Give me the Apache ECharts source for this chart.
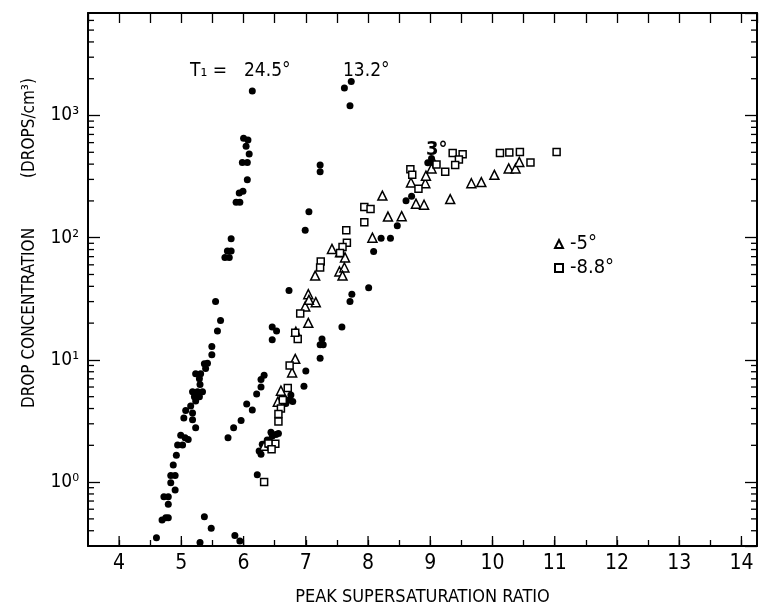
<!DOCTYPE html>
<html>
<head>
<meta charset="utf-8">
<script src="https://cdn.jsdelivr.net/npm/echarts@6/dist/echarts.min.js"></script>
<style>
html,body{margin:0;padding:0;background:#fff;}
#chart{width:764px;height:611px;}
</style>
</head>
<body>
<div id="chart"></div>
<script>
// ---- data ----
const circles245 = [
  [6.14,1590],[6.00,650],[6.07,630],[6.04,560],[6.09,485],[5.98,412],[6.06,412],
  [6.06,298],[5.93,232],[5.99,240],[5.88,195],[5.94,195],[5.80,98],[5.74,78],[5.80,78],
  [5.70,69],[5.77,69],[5.55,30],[5.63,21],[5.58,17.2],[5.49,12.9],[5.49,11],
  [5.42,9.4],[5.37,9.3],[5.39,8.5],[5.23,7.7],[5.31,7.7],[5.29,7.0],[5.30,6.3],
  [5.18,5.5],[5.26,5.5],[5.34,5.5],[5.21,5.0],[5.29,5.0],[5.23,4.6],[5.15,4.2],
  [5.07,3.86],[5.18,3.67],[5.04,3.34],[5.18,3.24],[5.23,2.78],[4.99,2.42],[5.06,2.31],
  [5.11,2.23],[4.94,2.01],[5.02,2.01],[4.92,1.66],[4.87,1.38],[4.83,1.13],[4.90,1.13],
  [4.83,0.99],[4.90,0.86],[4.72,0.76],[4.79,0.76],[4.79,0.66],[4.69,0.49],[4.75,0.51],
  [4.79,0.51],[4.60,0.35],[5.37,0.52],[5.48,0.42],[5.30,0.32],[5.86,0.365],[5.94,0.33]
];
const circles132 = [
  [7.73,1900],[7.62,1680],[7.71,1200],[7.23,393],[7.23,347],[7.05,163],[6.99,115],
  [6.73,37],[7.74,34.5],[7.71,30],[7.58,18.6],[6.46,18.6],[6.53,17.2],[6.46,14.6],
  [7.26,14.8],[7.23,13.3],[7.28,13.3],[7.23,10.3],[7.00,8.1],[6.97,6.1],[6.33,7.5],
  [6.28,6.9],[6.28,6.0],[6.21,5.25],[6.05,4.36],[6.14,3.9],[5.96,3.2],[5.84,2.78],[5.75,2.31]
];
const circles3 = [
  [9.02,444],[8.96,410],[9.04,417],[8.70,218],[8.61,201],[8.47,125],[8.21,99],[8.36,99],
  [8.09,77],[8.01,39],[6.76,5.15],[6.73,4.7],[6.68,4.4],[6.79,4.56],[6.44,2.56],[6.52,2.45],
  [6.46,2.38],[6.56,2.5],[6.38,2.21],[6.30,2.04],[6.25,1.8],[6.28,1.69],[6.22,1.15]
];
const trianglesM5 = [
  [8.23,221],[8.32,149],[8.54,150],[8.07,100],[8.69,283],[8.92,279],[8.93,322],
  [8.77,190],[8.90,186],[9.02,369],[9.32,207],[9.66,279],[9.82,285],[10.03,327],
  [10.26,369],[10.37,369],[10.43,417],[7.42,81],[7.55,76],[7.63,69],[7.15,49],
  [7.54,53],[7.62,57],[7.59,49],[7.04,34.5],[6.99,27.4],[7.16,29.7],[7.05,31],
  [7.04,20.1],[6.84,17],[6.83,10.2],[6.78,7.9],[6.60,5.6],[6.55,4.55],[6.33,1.98],[6.44,2.1]
];
const squaresM88 = [
  [9.36,494],[9.52,482],[9.46,436],[9.40,393],[9.10,398],[9.24,347],[8.68,363],[8.71,327],
  [8.81,251],[10.12,494],[10.27,497],[10.44,503],[10.61,412],[11.03,503],[7.94,178],
  [8.04,172],[7.94,134],[7.65,115],[7.66,91],[7.59,84],[7.55,75],[7.24,64],[7.23,57],
  [6.91,24],[6.87,14.8],[6.83,16.7],[6.74,9.0],[6.71,5.9],[6.63,4.7],[6.60,4.0],
  [6.56,3.6],[6.56,3.14],[6.51,2.06],[6.40,2.07],[6.45,1.86],[6.33,1.0]
];
const xMajorTicks = [4,5,6,7,8,9,10,11,12,13,14];
const yMinorTicks = [0.4,0.5,0.6,0.7,0.8,0.9,2,3,4,5,6,7,8,9,20,30,40,50,60,70,80,90,
  200,300,400,500,600,700,800,900,2000,3000,4000,5000,6000];
const yTickLabels = {1:'10⁰',10:'10¹',100:'10²',1000:'10³'};

const X_MIN = 3.5, X_MAX = 14.25, Y_MIN = 0.3, Y_MAX = 6900;
const FONT = "'DejaVu Sans Condensed','DejaVu Sans',sans-serif";

const chart = echarts.init(document.getElementById('chart'), null, {renderer:'canvas'});

function yLabel(v){
  const k = Math.round(v*1000)/1000;
  return yTickLabels[k] || '';
}

const option = {
  animation:false,
  backgroundColor:'#fff',
  grid:{left:88,right:7,top:13,bottom:56,containLabel:false},
  xAxis:[{
    type:'value',position:'bottom',min:X_MIN,max:X_MAX,interval:0.5,
    axisLine:{lineStyle:{color:'#000',width:2}},
    axisTick:{inside:true,length:6,lineStyle:{color:'#000',width:1.3}},
    splitLine:{show:false},
    axisLabel:{color:'#000',fontFamily:FONT,fontSize:21,margin:7,
      formatter:v=> (Math.abs(v-Math.round(v))<1e-6 ? String(Math.round(v)) : ''),
      showMinLabel:false,showMaxLabel:false},
    name:'PEAK SUPERSATURATION RATIO',nameLocation:'middle',nameGap:42,
    nameTextStyle:{color:'#000',fontFamily:FONT,fontSize:18}
  },{
    type:'value',position:'top',min:X_MIN,max:X_MAX,interval:0.5,
    axisLine:{lineStyle:{color:'#000',width:2}},
    axisTick:{inside:true,length:10,lineStyle:{color:'#000',width:1.3}},
    splitLine:{show:false},axisLabel:{show:false}
  }],
  yAxis:[{
    type:'log',logBase:10,position:'left',min:Y_MIN,max:Y_MAX,
    axisLine:{show:true,lineStyle:{color:'#000',width:2}},
    axisTick:{show:true,inside:true,length:12,lineStyle:{color:'#000',width:1.3}},
    splitLine:{show:false},minorTick:{show:false},
    axisLabel:{color:'#000',fontFamily:FONT,fontSize:19,margin:9,formatter:yLabel,
      showMinLabel:false,showMaxLabel:false}
  },{
    type:'log',logBase:10,position:'right',min:Y_MIN,max:Y_MAX,
    axisLine:{show:true,lineStyle:{color:'#000',width:2}},
    axisTick:{show:true,inside:true,length:12,lineStyle:{color:'#000',width:1.3}},
    splitLine:{show:false},axisLabel:{show:false}
  }],
  legend:{
    data:['-5°','-8.8°'],orient:'vertical',left:549,top:229,itemGap:4,
    itemWidth:8,itemHeight:8,
    textStyle:{color:'#000',fontFamily:FONT,fontSize:20,padding:[0,0,0,2]},
    selectedMode:false
  },
  graphic:[
    {type:'text',x:30,y:318,rotation:Math.PI/2,
      style:{text:'DROP CONCENTRATION',fill:'#000',font:'17px '+FONT,textAlign:'center',textVerticalAlign:'middle'}},
    {type:'text',x:30,y:128,rotation:Math.PI/2,
      style:{text:'(DROPS/cm³)',fill:'#000',font:'17px '+FONT,textAlign:'center',textVerticalAlign:'middle'}},
    {type:'text',x:190,y:71,
      style:{text:'T₁ =',fill:'#000',font:'19px '+FONT,textAlign:'left',textVerticalAlign:'middle'}},
    {type:'text',x:244,y:71,
      style:{text:'24.5°',fill:'#000',font:'19px '+FONT,textAlign:'left',textVerticalAlign:'middle'}},
    {type:'text',x:343,y:71,
      style:{text:'13.2°',fill:'#000',font:'19px '+FONT,textAlign:'left',textVerticalAlign:'middle'}},
    {type:'text',x:426,y:150,
      style:{text:'3°',fill:'#000',font:'bold 20px '+FONT,textAlign:'left',textVerticalAlign:'middle'}}
  ],
  series:[
    {name:'24.5°',type:'scatter',data:circles245,symbol:'circle',symbolSize:7,
      itemStyle:{color:'#000',opacity:1}},
    {name:'13.2°',type:'scatter',data:circles132,symbol:'circle',symbolSize:7,
      itemStyle:{color:'#000',opacity:1}},
    {name:'3°',type:'scatter',data:circles3,symbol:'circle',symbolSize:7,
      itemStyle:{color:'#000',opacity:1}},
    {name:'-5°',type:'scatter',data:trianglesM5,symbol:'triangle',symbolSize:9,
      itemStyle:{color:'#fff',borderColor:'#000',borderWidth:1.5,opacity:1}},
    {name:'-8.8°',type:'scatter',data:squaresM88,symbol:'rect',symbolSize:7,
      itemStyle:{color:'#fff',borderColor:'#000',borderWidth:1.5,opacity:1}},
    {name:'xMajor',type:'custom',clip:false,silent:true,
      data:xMajorTicks.map(v=>[v,Y_MIN]),encode:{x:0,y:1},
      renderItem:function(params,api){
        const p = api.coord([api.value(0),Y_MIN]);
        return {type:'line',shape:{x1:p[0],y1:p[1],x2:p[0],y2:p[1]-10},
          style:{stroke:'#000',lineWidth:1.3}};
      }},
    {name:'yMinor',type:'custom',clip:false,silent:true,
      data:yMinorTicks.map(v=>[X_MIN,v]),encode:{x:0,y:1},
      renderItem:function(params,api){
        const cs = params.coordSys;
        const y = api.coord([X_MIN,api.value(1)])[1];
        return {type:'group',children:[
          {type:'line',shape:{x1:cs.x,y1:y,x2:cs.x+6,y2:y},style:{stroke:'#000',lineWidth:1.3}},
          {type:'line',shape:{x1:cs.x+cs.width,y1:y,x2:cs.x+cs.width-6,y2:y},style:{stroke:'#000',lineWidth:1.3}}
        ]};
      }}
  ]
};
chart.setOption(option);
</script>
</body>
</html>
